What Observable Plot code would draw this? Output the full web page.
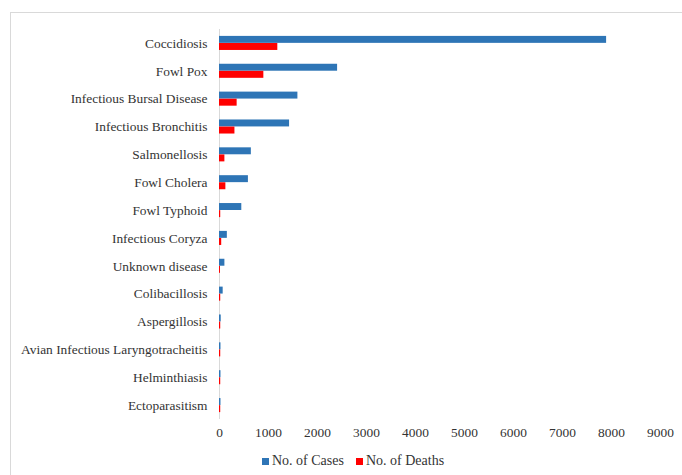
<!DOCTYPE html>
<html>
<head>
<meta charset="utf-8">
<script src="https://cdn.jsdelivr.net/npm/d3@7"></script>
<script src="https://cdn.jsdelivr.net/npm/@observablehq/plot@0.6"></script>
<style>
  html, body { margin: 0; padding: 0; background: #fff; overflow: hidden; }
  body { width: 682px; height: 475px; position: relative; font-family: "Liberation Serif", "Times New Roman", serif; }
  #frame { position: absolute; left: 10px; top: 12px; width: 700px; height: 500px; border: 1px solid #d9d9d9; box-sizing: border-box; }
  #chart { position: absolute; left: 0; top: 0; }
  #legend { position: absolute; left: 262px; top: 453px; font-size: 14px; color: #333; display: flex; align-items: center; white-space: nowrap; }
  #legend .sw { display: inline-block; width: 7px; height: 7px; margin-right: 3px; }
  #legend .item { display: flex; align-items: center; margin-right: 12px; }
</style>
</head>
<body>
<div id="frame"></div>
<div id="chart"></div>
<div id="legend"></div>
<script>
const diseases = [
  "Coccidiosis", "Fowl Pox", "Infectious Bursal Disease", "Infectious Bronchitis",
  "Salmonellosis", "Fowl Cholera", "Fowl Typhoid", "Infectious Coryza",
  "Unknown disease", "Colibacillosis", "Aspergillosis",
  "Avian Infectious Laryngotracheitis", "Helminthiasis", "Ectoparasitism"
];
const cases  = [7900, 2410, 1600, 1430, 650, 590, 455, 160, 110, 75, 35, 30, 30, 30];
const deaths = [1190, 905, 360, 315, 110, 130, 25, 45, 20, 25, 25, 25, 25, 25];
const xTicks = [0, 1000, 2000, 3000, 4000, 5000, 6000, 7000, 8000, 9000];
const seriesNames = ["No. of Cases", "No. of Deaths"];
const seriesColors = ["#2E75B6", "#FF0000"];

const caseRows = diseases.map((d, i) => ({disease: d, value: cases[i]}));
const deathRows = diseases.map((d, i) => ({disease: d, value: deaths[i]}));

const plot = Plot.plot({
  width: 682,
  height: 445,
  marginLeft: 219,
  marginRight: 22,
  marginTop: 29,
  marginBottom: 26,
  style: {fontFamily: "'Liberation Serif', 'Times New Roman', serif", fontSize: "13.4px", color: "#333", background: "transparent"},
  x: {domain: [0, 9000], ticks: xTicks, tickFormat: "d", tickSize: 0, tickPadding: 8, label: null},
  y: {domain: diseases, padding: 0, round: false, tickSize: 0, tickPadding: 12, label: null},
  marks: [
    Plot.ruleX([0], {stroke: "#d9d9d9", strokeWidth: 1}),
    Plot.barX(caseRows, {x: "value", y: "disease", fill: seriesColors[0], insetTop: 6.9, insetBottom: 14}),
    Plot.barX(deathRows, {x: "value", y: "disease", fill: seriesColors[1], insetTop: 14, insetBottom: 6.9})
  ]
});
document.getElementById("chart").appendChild(plot);

const legend = document.getElementById("legend");
seriesNames.forEach((name, i) => {
  const item = document.createElement("span");
  item.className = "item";
  const sw = document.createElement("span");
  sw.className = "sw";
  sw.style.background = seriesColors[i];
  item.appendChild(sw);
  item.appendChild(document.createTextNode(name));
  legend.appendChild(item);
});
</script>
</body>
</html>
